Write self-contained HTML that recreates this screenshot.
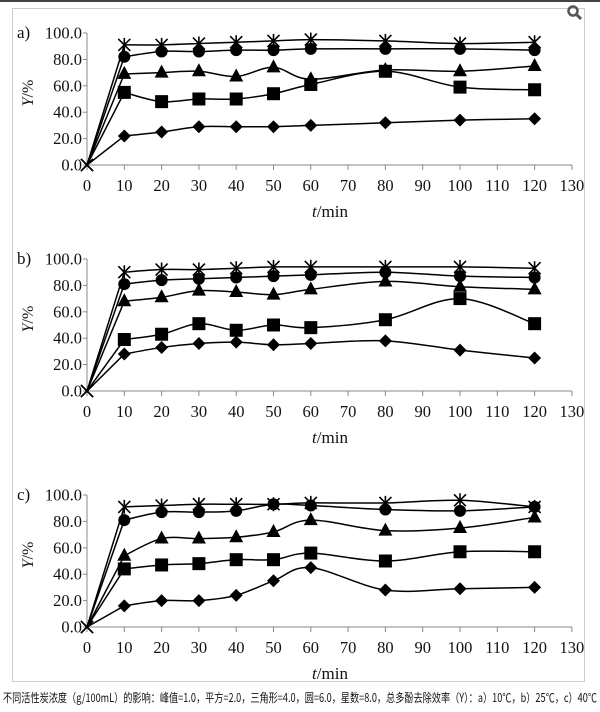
<!DOCTYPE html>
<html><head><meta charset="utf-8"><style>
body{margin:0;background:#fff;width:600px;height:712px;overflow:hidden}
svg{position:absolute;left:0;top:0}
text{font-family:"Liberation Serif",serif;fill:#111}
</style></head><body>
<svg id="s" width="600" height="712" xmlns="http://www.w3.org/2000/svg">
<rect x="0" y="0" width="600" height="2" fill="#444"/>
<rect x="12.5" y="8.5" width="572" height="673" fill="none" stroke="#ccc" stroke-width="1"/>
<g transform="translate(581,13)"><circle cx="-8" cy="-2" r="4.5" fill="none" stroke="#555" stroke-width="2.5"/><line x1="-4.5" y1="1.5" x2="0" y2="6" stroke="#555" stroke-width="3"/></g>
<text x="3" y="702" style="font-family:'Noto Sans CJK SC',sans-serif;font-size:12px" textLength="594" lengthAdjust="spacingAndGlyphs">不同活性炭浓度（g/100mL）的影响：峰值=1.0，平方=2.0，三角形=4.0，圆=6.0，星数=8.0，总多酚去除效率（Y）：a）10℃，b）25℃，c）40℃</text>
</svg>
<script>
var s=document.getElementById('s'),h='';
var X=[0,10,20,30,40,50,60,80,100,120];
var P=[{y0:165,lab:'a)',d:[
[0,91,91,92,93,94,95,94,92,93],[0,82,86,86,87,87,88,88,88,87],[0,69,70,71,67,74,65,72,71,75],[0,55,48,50,50,54,61,71,59,57],[0,22,25,29,29,29,30,32,34,35]]},
{y0:391,lab:'b)',d:[
[0,90,92,92,93,94,94,94,94,93],[0,81,84,85,86,87,88,90,87,86],[0,68,71,76,75,73,77,83,79,77],[0,39,43,51,46,50,48,54,70,51],[0,28,33,36,37,35,36,38,31,25]]},
{y0:627,lab:'c)',d:[
[0,91,92,93,93,93,94,94,96,91],[0,81,87,87,88,93,92,89,88,91],[0,54,67,67,68,72,81,73,75,83],[0,44,47,48,51,51,56,50,57,57],[0,16,20,20,24,35,45,28,29,30]]}];
function px(t){return 87+t*3.73}
P.forEach(function(p){
 var y0=p.y0;function py(v){return y0-v*1.32}
 h+='<text x="17" y="'+(y0-127)+'" font-size="17">'+p.lab+'</text>';
 h+='<line x1="87" y1="'+(y0-132)+'" x2="87" y2="'+y0+'" stroke="#888"/>';
 h+='<line x1="87" y1="'+y0+'" x2="572" y2="'+y0+'" stroke="#888"/>';
 for(var v=0;v<=100;v+=20){h+='<line x1="83" x2="87" y1="'+py(v)+'" y2="'+py(v)+'" stroke="#888"/><text x="82" y="'+(py(v)+5.5)+'" font-size="16.5" text-anchor="end">'+v.toFixed(1)+'</text>';}
 for(var t=0;t<=130;t+=10){h+='<line x1="'+px(t)+'" x2="'+px(t)+'" y1="'+y0+'" y2="'+(y0+5)+'" stroke="#888"/><text x="'+px(t)+'" y="'+(y0+26)+'" font-size="16.5" text-anchor="middle">'+t+'</text>';}
 h+='<text x="330" y="'+(y0+52)+'" font-size="17" text-anchor="middle"><tspan font-style="italic">t</tspan>/min</text>';
 h+='<text transform="translate(33,'+(y0-72)+') rotate(-90)" font-size="16" text-anchor="middle"><tspan font-style="italic">Y</tspan>/%</text>';
 p.d.forEach(function(d,k){
  var pts=X.map(function(t,i){return [px(t),py(d[i])]});
  var path='M'+pts[0][0]+','+pts[0][1]+'L'+pts[1][0]+','+pts[1][1];
  for(var i=1;i<pts.length-1;i++){var a=pts[i-1<1?1:i-1],b=pts[i],c=pts[i+1],e=pts[i+2]||c;
   if(i==1)a=b;
   path+='C'+(b[0]+(c[0]-a[0])/6)+','+(b[1]+(c[1]-a[1])/6)+' '+(c[0]-(e[0]-b[0])/6)+','+(c[1]-(e[1]-b[1])/6)+' '+c[0]+','+c[1];}
  h+='<path d="'+path+'" fill="none" stroke="#000" stroke-width="1.5"/>';
  pts.forEach(function(q,i){var x=q[0],y=q[1];
   if(i==0){h+='<path d="M'+(x-6)+','+(y-6)+'L'+(x+6)+','+(y+6)+'M'+(x-6)+','+(y+6)+'L'+(x+6)+','+(y-6)+'" stroke="#000" stroke-width="1.5"/>';return;}
   if(k==0)h+='<path d="M'+(x-6)+','+(y-6)+'L'+(x+6)+','+(y+6)+'M'+(x-6)+','+(y+6)+'L'+(x+6)+','+(y-6)+'M'+x+','+(y-7)+'L'+x+','+(y+7)+'" stroke="#000" stroke-width="1.6"/>';
   if(k==1)h+='<circle cx="'+x+'" cy="'+y+'" r="6"/>';
   if(k==2)h+='<path d="M'+x+','+(y-8)+'L'+(x+7)+','+(y+5)+'L'+(x-7)+','+(y+5)+'Z"/>';
   if(k==3)h+='<rect x="'+(x-6.5)+'" y="'+(y-6.5)+'" width="13" height="13"/>';
   if(k==4)h+='<path d="M'+x+','+(y-6.5)+'L'+(x+6.5)+','+y+'L'+x+','+(y+6.5)+'L'+(x-6.5)+','+y+'Z"/>';
  });
 });
});
s.insertAdjacentHTML('beforeend',h);
</script>
</body></html>
